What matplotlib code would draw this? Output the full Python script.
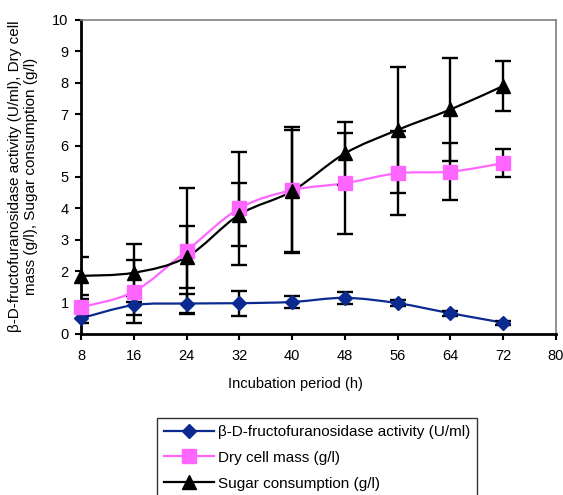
import numpy as np
import matplotlib
matplotlib.use('Agg')
import matplotlib.pyplot as plt
from matplotlib.path import Path
from matplotlib.patches import PathPatch
from matplotlib.lines import Line2D

plt.rcParams['font.family'] = ['Liberation Sans', 'DejaVu Sans']

# Data
hours = [8, 16, 24, 32, 40, 48, 56, 64, 72]
enzyme = [0.50, 0.92, 0.97, 0.98, 1.02, 1.15, 0.98, 0.66, 0.36]
enzyme_err = [0.15, 0.30, 0.30, 0.40, 0.20, 0.20, 0.10, 0.08, 0.06]
dry_mass = [0.85, 1.35, 2.65, 4.00, 4.58, 4.80, 5.12, 5.17, 5.44]
dry_mass_err = [0.25, 1.00, 2.00, 1.80, 2.00, 1.60, 1.33, 0.90, 0.44]
sugar = [1.85, 1.95, 2.45, 3.80, 4.55, 5.75, 6.50, 7.15, 7.90]
sugar_err = [0.60, 0.92, 1.00, 1.00, 1.95, 1.00, 2.00, 1.63, 0.80]

labels = ['β-D-fructofuranosidase activity (U/ml)',
          'Dry cell mass (g/l)',
          'Sugar consumption (g/l)']
x_ticks = [8, 16, 24, 32, 40, 48, 56, 64, 72, 80]

series = [
    (enzyme, enzyme_err, '#0a2a8f', 'D', 7.5),
    (dry_mass, dry_mass_err, '#ff66ff', 's', 10.5),
    (sugar, sugar_err, 'black', '^', 10.5),
]


def smooth_path(x, y):
    # Excel-like smoothed line: Catmull-Rom segments as cubic Bezier curves
    p = np.column_stack([x, y]).astype(float)
    n = len(p)
    verts = [p[0]]
    codes = [Path.MOVETO]
    for i in range(n - 1):
        p0 = p[i - 1] if i > 0 else p[i]
        p3 = p[i + 2] if i + 2 < n else p[i + 1]
        c1 = p[i] + (p[i + 1] - p0) / 6.0
        c2 = p[i + 1] - (p3 - p[i]) / 6.0
        verts += [c1, c2, p[i + 1]]
        codes += [Path.CURVE4] * 3
    return Path(verts, codes)


fig = plt.figure(figsize=(5.63, 4.95), dpi=100)
ax = fig.add_axes([0.1439, 0.3253, 0.8437, 0.6343])

handles = []
for k, (vals, errs, color, marker, ms) in enumerate(series):
    ax.add_patch(PathPatch(smooth_path(hours, vals), facecolor='none',
                           edgecolor=color, lw=1.6, zorder=2 + k))
    ax.errorbar(hours, vals, yerr=errs, fmt='none', ecolor='black',
                elinewidth=1.7, capsize=5.6, capthick=1.7, zorder=2 + k)
    ax.plot(hours, vals, linestyle='none', marker=marker, markersize=ms,
            color=color, markeredgecolor=color, zorder=5 + k, clip_on=False)
    handles.append(Line2D([], [], color=color, lw=1.6, marker=marker,
                          markersize=ms, markeredgecolor=color))

ax.set_xlim(8, 80)
ax.set_ylim(0, 10)
ax.set_xticks(x_ticks)
ax.set_yticks(range(0, 11))
ax.tick_params(direction='out', length=4, width=1.5, labelsize=10.5)
ax.tick_params(axis='x', pad=7)
ax.tick_params(axis='y', pad=5)

for side in ['left', 'bottom']:
    ax.spines[side].set_linewidth(2)
    ax.spines[side].set_color('black')
for side in ['top', 'right']:
    ax.spines[side].set_linewidth(1.2)
    ax.spines[side].set_color('#808080')

fig.text(295 / 563, 1 - 384 / 495, 'Incubation period (h)',
         ha='center', va='center', fontsize=10.5)
fig.text(23 / 563, 1 - 176 / 495,
         'β-D-fructofuranosidase activity (U/ml), Dry cell\n'
         'mass (g/l), Sugar consumption (g/l)',
         rotation=90, ha='center', va='center', fontsize=11,
         multialignment='center', linespacing=1.15)

leg = fig.legend(handles, labels, loc='upper left',
                 bbox_to_anchor=(157 / 563, 1 - 418 / 495),
                 fontsize=11, frameon=True, fancybox=False, edgecolor='black',
                 handlelength=3.3, handletextpad=0.25, labelspacing=0.78,
                 borderpad=0.45, borderaxespad=0)
leg.get_frame().set_linewidth(1.0)

fig.savefig('out.png', dpi=100)
